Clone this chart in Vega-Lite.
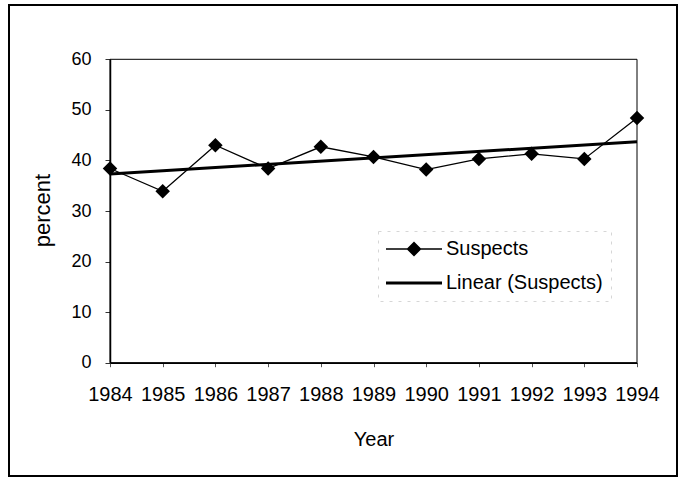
{
  "$schema": "https://vega.github.io/schema/vega-lite/v6.json",
  "width": 668,
  "height": 471,
  "autosize": "none",
  "padding": {"left": 9, "top": 5, "right": 1, "bottom": 3},
  "background": "white",
  "config": {
    "font": "Liberation Sans",
    "view": {"stroke": "black", "strokeWidth": 2},
    "legend": {"strokeColor": "#d6d6d6", "strokeDash": [3, 6], "strokeWidth": 1}
  },
  "data": {
    "values": [
      {"year": 1984, "percent": 38.4, "series": "Suspects"},
      {"year": 1985, "percent": 33.9, "series": "Suspects"},
      {"year": 1986, "percent": 43.0, "series": "Suspects"},
      {"year": 1987, "percent": 38.4, "series": "Suspects"},
      {"year": 1988, "percent": 42.7, "series": "Suspects"},
      {"year": 1989, "percent": 40.7, "series": "Suspects"},
      {"year": 1990, "percent": 38.2, "series": "Suspects"},
      {"year": 1991, "percent": 40.3, "series": "Suspects"},
      {"year": 1992, "percent": 41.3, "series": "Suspects"},
      {"year": 1993, "percent": 40.3, "series": "Suspects"},
      {"year": 1994, "percent": 48.4, "series": "Suspects"}
    ]
  },
  "encoding": {
    "x": {
      "field": "year",
      "type": "quantitative",
      "scale": {"domain": [1984, 1994], "range": [101, 628], "nice": false, "zero": false},
      "axis": {
        "title": "Year",
        "values": [1984, 1985, 1986, 1987, 1988, 1989, 1990, 1991, 1992, 1993, 1994],
        "format": "d",
        "offset": -113.3,
        "grid": false,
        "domain": true,
        "domainColor": "black",
        "domainWidth": 1.5,
        "ticks": true,
        "tickColor": "#555555",
        "tickSize": 4,
        "labelFontSize": 20,
        "labelColor": "black",
        "labelPadding": 18,
        "labelFlush": false,
        "labelOverlap": false,
        "titleFontSize": 20,
        "titleFontWeight": "normal",
        "titleColor": "black",
        "titlePadding": 25
      }
    },
    "y": {
      "field": "percent",
      "type": "quantitative",
      "scale": {"domain": [0, 60], "range": [357.7, 54.3], "nice": false, "zero": true},
      "axis": {
        "title": "percent",
        "values": [0, 10, 20, 30, 40, 50, 60],
        "offset": -101,
        "grid": false,
        "domain": true,
        "domainColor": "black",
        "domainWidth": 1.5,
        "ticks": true,
        "tickColor": "#333333",
        "tickSize": 5,
        "labelFontSize": 18,
        "labelColor": "black",
        "labelPadding": 14,
        "labelFlush": false,
        "labelOverlap": false,
        "titleFontSize": 22,
        "titleFontWeight": "normal",
        "titleColor": "black",
        "titlePadding": 16,
        "titleY": 205
      }
    }
  },
  "layer": [
    {
      "data": {"values": [{"x0": 1984, "x1": 1994, "y0": 0, "y1": 60}]},
      "mark": {"type": "rect", "fill": "transparent", "stroke": "black", "strokeWidth": 1},
      "encoding": {
        "x": {"field": "x0", "type": "quantitative"},
        "x2": {"field": "x1"},
        "y": {"field": "y0", "type": "quantitative"},
        "y2": {"field": "y1"}
      }
    },
    {
      "transform": [{"regression": "percent", "on": "year"}],
      "mark": {"type": "line", "color": "black", "strokeWidth": 3}
    },
    {
      "mark": {"type": "line", "color": "black", "strokeWidth": 1.3}
    },
    {
      "mark": {"type": "point", "shape": "diamond", "filled": true, "color": "black", "opacity": 1, "size": 210}
    },
    {
      "data": {"values": []},
      "mark": {"type": "point", "filled": true, "color": "black", "size": 400},
      "encoding": {
        "shape": {
          "field": "series",
          "type": "nominal",
          "scale": {
            "domain": ["Suspects", "Linear (Suspects)"],
            "range": [
              "M-2.8,-0.065L2.8,-0.065L2.8,0.065L-2.8,0.065Z M0,-0.75L0.75,0L0,0.75L-0.75,0Z",
              "M-2.8,-0.15L2.8,-0.15L2.8,0.15L-2.8,0.15Z"
            ]
          },
          "legend": {
            "orient": "none",
            "legendX": 369,
            "legendY": 226,
            "title": null,
            "padding": 8,
            "symbolSize": 400,
            "symbolOffset": 18,
            "symbolFillColor": "black",
            "symbolStrokeColor": "transparent",
            "symbolStrokeWidth": 0,
            "symbolOpacity": 1,
            "labelFontSize": 20,
            "labelColor": "black",
            "labelOffset": 22,
            "rowPadding": 14
          }
        }
      }
    }
  ]
}
